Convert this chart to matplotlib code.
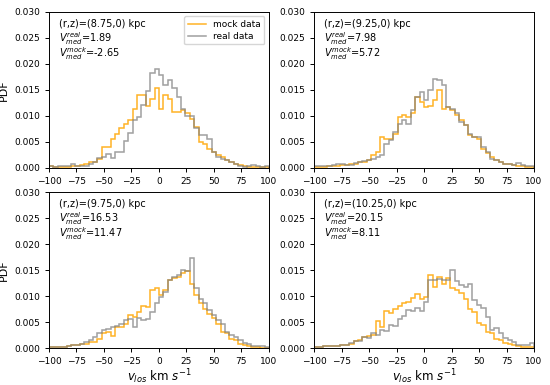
import matplotlib
matplotlib.use("Agg")
import matplotlib.pyplot as plt
import numpy as np

# bin edges of the velocity histograms (km/s)
edges = np.arange(-100, 101, 4)

# PDF values, one value per 4 km/s bin
mock_875 = [0.0003, 0.0002, 0.0001, 0.0002, 0.0002, 0.0003, 0.0004, 0.0005, 0.0008, 0.0011,
            0.0012, 0.0018, 0.0040, 0.0040, 0.0056, 0.0066, 0.0076, 0.0085, 0.0092, 0.0114,
            0.0140, 0.0140, 0.0119, 0.0133, 0.0153, 0.0114, 0.0140, 0.0133, 0.0108, 0.0108,
            0.0111, 0.0105, 0.0095, 0.0079, 0.0050, 0.0047, 0.0037, 0.0031, 0.0024, 0.0021,
            0.0016, 0.0012, 0.0008, 0.0005, 0.0003, 0.0002, 0.0002, 0.0001, 0.0001, 0.0001]
real_875 = [0.0003, 0.0002, 0.0003, 0.0003, 0.0003, 0.0008, 0.0003, 0.0003, 0.0004, 0.0008,
            0.0012, 0.0020, 0.0022, 0.0026, 0.0020, 0.0030, 0.0030, 0.0052, 0.0068, 0.0093,
            0.0098, 0.0122, 0.0148, 0.0182, 0.0190, 0.0178, 0.0160, 0.0170, 0.0153, 0.0137,
            0.0113, 0.0100, 0.0100, 0.0076, 0.0063, 0.0063, 0.0055, 0.0030, 0.0022, 0.0018,
            0.0015, 0.0011, 0.0008, 0.0003, 0.0002, 0.0004, 0.0006, 0.0004, 0.0002, 0.0003]

mock_925 = [0.0002, 0.0002, 0.0002, 0.0003, 0.0003, 0.0004, 0.0005, 0.0006, 0.0008, 0.0008,
            0.0012, 0.0012, 0.0015, 0.0024, 0.0030, 0.0060, 0.0056, 0.0056, 0.0066, 0.0098,
            0.0101, 0.0098, 0.0105, 0.0137, 0.0127, 0.0117, 0.0120, 0.0130, 0.0149, 0.0114,
            0.0117, 0.0111, 0.0101, 0.0092, 0.0082, 0.0063, 0.0060, 0.0056, 0.0037, 0.0028,
            0.0021, 0.0016, 0.0012, 0.0008, 0.0008, 0.0006, 0.0004, 0.0003, 0.0002, 0.0002]
real_925 = [0.0003, 0.0003, 0.0004, 0.0004, 0.0005, 0.0007, 0.0007, 0.0005, 0.0005, 0.0010,
            0.0012, 0.0014, 0.0016, 0.0018, 0.0021, 0.0024, 0.0047, 0.0053, 0.0069, 0.0085,
            0.0092, 0.0085, 0.0111, 0.0137, 0.0146, 0.0130, 0.0149, 0.0172, 0.0169, 0.0159,
            0.0117, 0.0114, 0.0105, 0.0088, 0.0082, 0.0066, 0.0060, 0.0060, 0.0040, 0.0031,
            0.0018, 0.0015, 0.0012, 0.0008, 0.0008, 0.0006, 0.0010, 0.0005, 0.0004, 0.0003]

mock_975 = [0.0002, 0.0002, 0.0002, 0.0002, 0.0003, 0.0005, 0.0005, 0.0008, 0.0008, 0.0011,
            0.0012, 0.0018, 0.0028, 0.0031, 0.0024, 0.0040, 0.0040, 0.0047, 0.0063, 0.0060,
            0.0070, 0.0081, 0.0079, 0.0112, 0.0115, 0.0102, 0.0112, 0.0131, 0.0134, 0.0137,
            0.0144, 0.0149, 0.0124, 0.0102, 0.0087, 0.0076, 0.0066, 0.0057, 0.0047, 0.0031,
            0.0029, 0.0018, 0.0015, 0.0008, 0.0005, 0.0003, 0.0002, 0.0002, 0.0001, 0.0001]
real_975 = [0.0002, 0.0002, 0.0002, 0.0002, 0.0004, 0.0005, 0.0006, 0.0007, 0.0012, 0.0015,
            0.0021, 0.0028, 0.0035, 0.0037, 0.0040, 0.0042, 0.0047, 0.0053, 0.0055, 0.0040,
            0.0057, 0.0053, 0.0055, 0.0070, 0.0086, 0.0099, 0.0108, 0.0131, 0.0137, 0.0140,
            0.0150, 0.0149, 0.0173, 0.0115, 0.0095, 0.0087, 0.0074, 0.0063, 0.0053, 0.0047,
            0.0031, 0.0026, 0.0021, 0.0015, 0.0010, 0.0008, 0.0003, 0.0003, 0.0003, 0.0002]

mock_1025 = [0.0002, 0.0002, 0.0003, 0.0003, 0.0003, 0.0004, 0.0005, 0.0005, 0.0007, 0.0013,
             0.0016, 0.0021, 0.0024, 0.0026, 0.0052, 0.0040, 0.0072, 0.0068, 0.0076, 0.0080,
             0.0086, 0.0088, 0.0096, 0.0104, 0.0094, 0.0098, 0.0141, 0.0118, 0.0136, 0.0124,
             0.0134, 0.0115, 0.0112, 0.0106, 0.0095, 0.0075, 0.0070, 0.0048, 0.0045, 0.0031,
             0.0028, 0.0018, 0.0016, 0.0010, 0.0008, 0.0005, 0.0003, 0.0002, 0.0002, 0.0002]
real_1025 = [0.0002, 0.0002, 0.0003, 0.0003, 0.0003, 0.0004, 0.0005, 0.0005, 0.0010, 0.0013,
             0.0013, 0.0022, 0.0019, 0.0029, 0.0026, 0.0035, 0.0032, 0.0045, 0.0042, 0.0056,
             0.0061, 0.0074, 0.0071, 0.0077, 0.0072, 0.0088, 0.0131, 0.0131, 0.0133, 0.0131,
             0.0131, 0.0151, 0.0128, 0.0122, 0.0118, 0.0124, 0.0092, 0.0082, 0.0077, 0.0060,
             0.0035, 0.0038, 0.0028, 0.0019, 0.0016, 0.0012, 0.0006, 0.0005, 0.0005, 0.0010]

radii = ["8.75", "9.25", "9.75", "10.25"]
v_real = ["1.89", "7.98", "16.53", "20.15"]
v_mock = ["-2.65", "5.72", "11.47", "8.11"]
mock = [mock_875, mock_925, mock_975, mock_1025]
real = [real_875, real_925, real_975, real_1025]

fig, axes = plt.subplots(2, 2, figsize=(5.5, 3.85), dpi=100)
fig.subplots_adjust(left=0.089, right=0.971, top=0.969, bottom=0.096,
                    wspace=0.205, hspace=0.154)

for k, ax in enumerate(axes.flat):
    ax.stairs(mock[k], edges, color='orange', alpha=0.85, lw=1.1, label='mock data')
    ax.stairs(real[k], edges, color='grey', alpha=0.75, lw=1.1, label='real data')
    ax.set_xlim(-100, 100)
    ax.set_ylim(0, 0.03)
    ax.set_xticks(np.arange(-100, 101, 25))
    ax.set_yticks(np.arange(0, 0.0301, 0.005))
    ax.yaxis.set_major_formatter(plt.FormatStrFormatter('%.3f'))
    ax.tick_params(labelsize=6.5, length=3, width=0.7)
    for sp in ax.spines.values():
        sp.set_linewidth(0.7)
    ax.text(0.046, 0.925, '(r,z)=(%s,0) kpc' % radii[k], transform=ax.transAxes,
            fontsize=7, va='center')
    ax.text(0.046, 0.832, r'$V^{real}_{med}$=' + v_real[k], transform=ax.transAxes,
            fontsize=7, va='center')
    ax.text(0.046, 0.732, r'$V^{mock}_{med}$=' + v_mock[k], transform=ax.transAxes,
            fontsize=7, va='center')
    if k % 2 == 0:
        ax.set_ylabel('PDF', fontsize=8)
    if k >= 2:
        ax.set_xlabel(r'$v_{los}$ km $s^{-1}$', fontsize=8.5, labelpad=1)

axes[0, 0].legend(loc='upper right', fontsize=6.5, handlelength=2.0,
                  borderpad=0.4, labelspacing=0.3)

fig.savefig('out.png', dpi=100)
